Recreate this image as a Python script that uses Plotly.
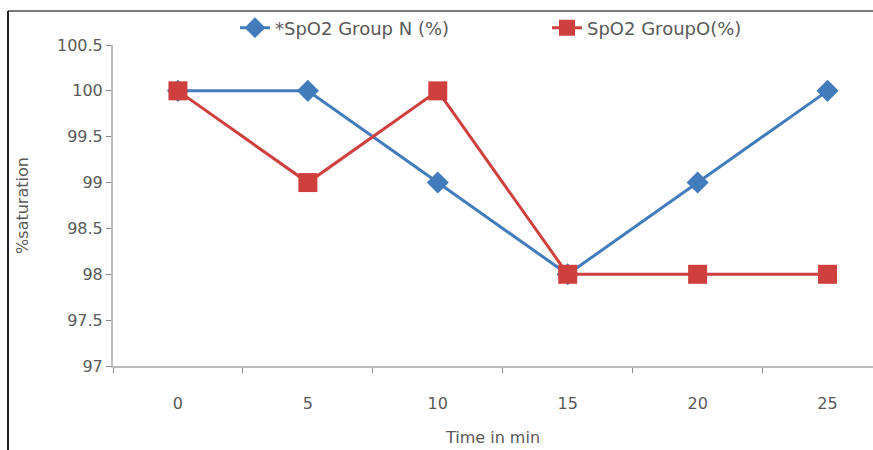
import plotly.graph_objects as go

time_labels = ["0", "5", "10", "15", "20", "25"]
group_n = [100, 100, 99, 98, 99, 100]
group_o = [100, 99, 100, 98, 98, 98]
y_ticks = [97, 97.5, 98, 98.5, 99, 99.5, 100, 100.5]
y_tick_text = ["97", "97.5", "98", "98.5", "99", "99.5", "100", "100.5"]

fig = go.Figure()
fig.add_trace(go.Scatter(
    x=time_labels, y=group_n, mode="lines+markers",
    name="*SpO2 Group N (%)",
    line=dict(color="#437cbc", width=3),
    marker=dict(symbol="diamond", size=17, color="#437cbc"),
))
fig.add_trace(go.Scatter(
    x=time_labels, y=group_o, mode="lines+markers",
    name="SpO2 GroupO(%)",
    line=dict(color="#cf3f3e", width=3),
    marker=dict(symbol="square", size=19, color="#cf3f3e"),
))

fig.update_layout(
    width=873, height=450,
    margin=dict(l=113, r=0, t=45, b=84),
    paper_bgcolor="white", plot_bgcolor="white",
    font=dict(family="DejaVu Sans, Liberation Sans, sans-serif", size=16, color="#595959"),
    showlegend=True,
    legend=dict(orientation="h", x=0.1605, y=1.053, xanchor="left", yanchor="middle",
                entrywidth=267, font=dict(size=18, color="#595959"),
                bgcolor="rgba(0,0,0,0)"),
    xaxis=dict(type="category", range=[-0.5, 5.35], tickson="boundaries",
               ticks="outside", ticklen=5, tickcolor="#888888",
               ticklabelstandoff=22,
               showline=True, linecolor="#bbbbbb", linewidth=2,
               showgrid=False, zeroline=False,
               title=dict(text="Time in min", standoff=20, font=dict(size=16))),
    yaxis=dict(range=[97, 100.5], tickvals=y_ticks, ticktext=y_tick_text,
               ticks="outside", ticklen=5, tickcolor="#888888",
               showline=True, linecolor="#bbbbbb", linewidth=2,
               showgrid=False, zeroline=False,
               title=dict(text="%saturation", standoff=24, font=dict(size=16))),
    shapes=[
        dict(type="line", xref="paper", yref="paper",
             x0=(8 - 113) / 760, x1=1.0,
             y0=1 + (45 - 11) / 321, y1=1 + (45 - 11) / 321,
             line=dict(color="#777777", width=2)),
        dict(type="line", xref="paper", yref="paper",
             x0=(8 - 113) / 760, x1=(8 - 113) / 760, y0=-84 / 321,
             y1=1 + (45 - 11) / 321, line=dict(color="#222222", width=2)),
    ],
)

fig.write_html("out.html")
